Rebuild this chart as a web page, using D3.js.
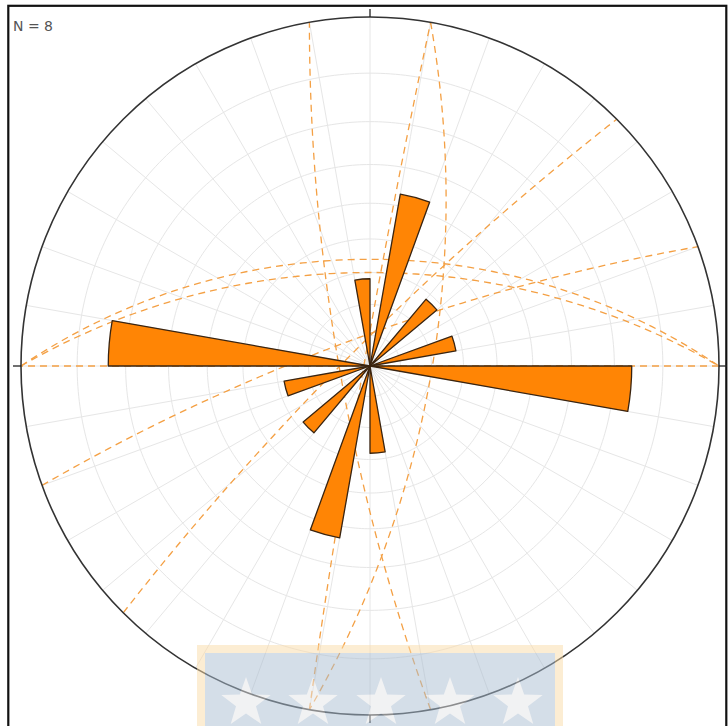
<!DOCTYPE html>
<html>
<head>
<meta charset="utf-8">
<script src="https://cdn.jsdelivr.net/npm/d3@7"></script>
<style>
  html, body { margin: 0; padding: 0; background: #fff; }
  svg { display: block; }
</style>
</head>
<body>
<svg id="chart" width="728" height="726"></svg>
<script>
// Rose diagram of strikes (10° bins, bidirectional) over a stereographic polar net,
// with the great circles of the measured planes.

const sampleCount = 8;

// Counts per 10° bin, bin k covering [10k, 10k+10) degrees of azimuth.
const binSize = 10;
const roseCounts = [
  0, 2, 0, 0, 1, 0, 0, 1, 0, 3,   //   0 ..  99
  0, 0, 0, 0, 0, 0, 0, 1, 0, 2,   // 100 .. 199
  0, 0, 1, 0, 0, 1, 0, 3, 0, 0,   // 200 .. 299
  0, 0, 0, 0, 0, 1                // 300 .. 359
];

// Planes (right-hand rule strike / dip, degrees).
const planeStrikes = [90, 270, 270, 10, 190, 170, 225, 250];
const planeDips    = [90,  56,  60, 70,  88,  80,  83,  80];

// Polar net: small circles every 10° of plunge, radials every 10° of azimuth.
const gridPlunges  = [10, 20, 30, 40, 50, 60, 70, 80];
const gridAzimuths = d3.range(0, 360, 10);

const svg = d3.select("#chart");
const cx = 370, cy = 366, R = 349;
const rad = Math.PI / 180;

// Lower-hemisphere stereographic projection centred on the nadir.
const proj = d3.geoStereographic()
  .scale(R)
  .translate([cx, cy])
  .clipAngle(90.5)
  .precision(0.1);
const geoPath = d3.geoPath(proj);

// direction (east, north, down) -> [lon, lat] so that "down" sits at the centre
function toLonLat(e, n, dn) {
  const lon = Math.atan2(e, dn) / rad;
  const lat = Math.asin(Math.max(-1, Math.min(1, n))) / rad;
  return [lon, lat];
}

// Frame
svg.append("rect")
  .attr("x", 8.3).attr("y", 5.8)
  .attr("width", 718).attr("height", 740)
  .attr("fill", "#fff")
  .attr("stroke", "#111").attr("stroke-width", 2.2);

// Net grid
const grid = svg.append("g")
  .attr("fill", "none")
  .attr("stroke", "#e6e6e6")
  .attr("stroke-width", 1);

gridPlunges.forEach(p => {
  grid.append("path")
    .attr("d", geoPath(d3.geoCircle().center([0, 0]).radius(90 - p).precision(1)()));
});
gridAzimuths.forEach(az => {
  const edge = toLonLat(Math.sin(az * rad), Math.cos(az * rad), 0);
  grid.append("path")
    .attr("d", geoPath({ type: "LineString", coordinates: [[0, 0], edge] }));
});

// Great circles of the planes
const circles = svg.append("g")
  .attr("fill", "none")
  .attr("stroke", "#f4a044")
  .attr("stroke-width", 1.3)
  .attr("stroke-dasharray", "7,5");

planeStrikes.forEach((s, i) => {
  const d = planeDips[i];
  const dd = s + 90;
  const S = [Math.sin(s * rad), Math.cos(s * rad), 0];
  const D = [Math.cos(d * rad) * Math.sin(dd * rad),
             Math.cos(d * rad) * Math.cos(dd * rad),
             Math.sin(d * rad)];
  const coords = d3.range(0, 180.001, 2).map(a => {
    const c = Math.cos(a * rad), sn = Math.sin(a * rad);
    return toLonLat(c * S[0] + sn * D[0], c * S[1] + sn * D[1], c * S[2] + sn * D[2]);
  });
  circles.append("path")
    .attr("d", geoPath({ type: "LineString", coordinates: coords }));
});

// Rose petals
const rScale = d3.scaleLinear().domain([0, 4]).range([0, R]);
const petals = roseCounts
  .map((count, k) => ({ count, start: k * binSize, end: (k + 1) * binSize }))
  .filter(p => p.count > 0);

const arc = d3.arc()
  .innerRadius(0)
  .outerRadius(p => rScale(p.count))
  .startAngle(p => p.start * rad)
  .endAngle(p => p.end * rad);

svg.append("g")
  .attr("transform", `translate(${cx},${cy})`)
  .selectAll("path")
  .data(petals)
  .join("path")
  .attr("d", arc)
  .attr("fill", "#ff8505")
  .attr("stroke", "#3a2410")
  .attr("stroke-width", 1.3)
  .attr("stroke-linejoin", "round");

// Primitive circle and cardinal ticks
svg.append("circle")
  .attr("cx", cx).attr("cy", cy).attr("r", R)
  .attr("fill", "none")
  .attr("stroke", "#333").attr("stroke-width", 1.6);

const tickLen = 8;
[0, 90, 180, 270].forEach(az => {
  const ex = Math.sin(az * rad), ny = -Math.cos(az * rad);
  svg.append("line")
    .attr("x1", cx + ex * R).attr("y1", cy + ny * R)
    .attr("x2", cx + ex * (R + tickLen)).attr("y2", cy + ny * (R + tickLen))
    .attr("stroke", "#222").attr("stroke-width", 1.3);
});

// Sample count
svg.append("text")
  .attr("x", 13).attr("y", 31)
  .attr("font-family", "'DejaVu Sans', 'Liberation Sans', sans-serif")
  .attr("font-size", 14)
  .attr("fill", "#555")
  .text(`N = ${sampleCount}`);

// Institutional stamp along the lower edge
const stamp = svg.append("g").attr("opacity", 0.5);
stamp.append("rect")
  .attr("x", 197).attr("y", 645).attr("width", 366).attr("height", 100)
  .attr("fill", "#fbdca8");
stamp.append("rect")
  .attr("x", 205).attr("y", 653).attr("width", 350).attr("height", 90)
  .attr("fill", "#aabed2");
const starPts = d3.range(10).map(i => {
  const r = i % 2 === 0 ? 26 : 10.5;
  const a = i * 36 * rad;
  return [r * Math.sin(a), -r * Math.cos(a)];
});
[246, 313, 381, 450, 518].forEach(x => {
  stamp.append("polygon")
    .attr("points", starPts.map(p => `${x + p[0]},${703 + p[1]}`).join(" "))
    .attr("fill", "#e4e6e9");
});
</script>
</body>
</html>
